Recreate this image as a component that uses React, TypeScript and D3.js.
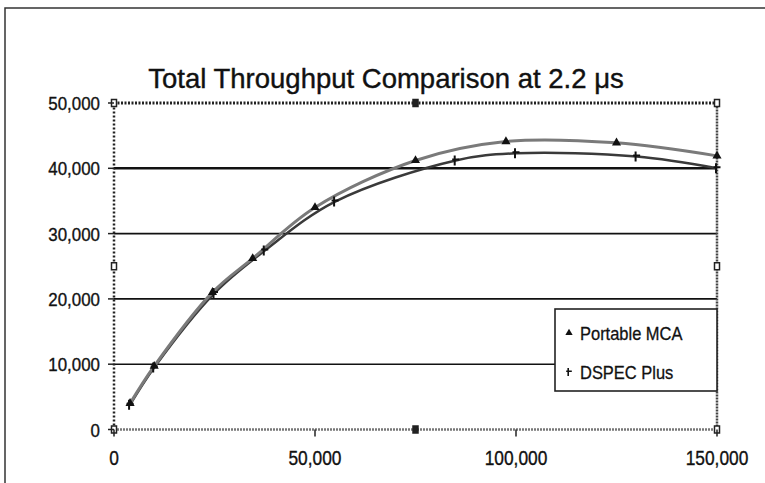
import React, { useRef, useEffect } from 'react';
import * as d3 from 'd3';

// Input count rate (cps) vs total throughput (cps)
const mcaX = [4000, 10000, 24500, 34500, 50000, 75000, 97500, 125000, 150000];
const mcaY = [4000, 9700, 21000, 26200, 34000, 41200, 44100, 43900, 41900];
const dspecX = [4000, 10000, 25000, 37500, 55000, 85000, 100000, 130000, 150000];
const dspecY = [3800, 9500, 20900, 27400, 34900, 41200, 42300, 41800, 40000];

const yTicks = [0, 10000, 20000, 30000, 40000, 50000];
const xTicks = [0, 50000, 100000, 150000];
const gridLines = [10000, 20000, 30000, 40000];
const seriesNames = ['Portable MCA', 'DSPEC Plus'];
const title = 'Total Throughput Comparison at 2.2 \u03bcs';

type Pt = { x: number; y: number };

export default function App() {
  const ref = useRef<SVGSVGElement>(null);

  useEffect(() => {
    if (!ref.current) return;
    const svg = d3.select(ref.current);
    svg.selectAll('*').remove();

    const width = 765;
    const height = 483;
    const font = '"Liberation Sans", Arial, Helvetica, sans-serif';
    const squeeze = 0.89; // the original type is a touch condensed
    const ink = '#111';

    const x = d3.scaleLinear().domain([0, 150000]).range([114, 717]);
    const y = d3.scaleLinear().domain([0, 50000]).range([429.5, 103]);
    const fmt = d3.format(',');

    svg.attr('width', width).attr('height', height);

    svg.append('rect').attr('width', width).attr('height', height).attr('fill', '#fff');

    // outer frame (right and bottom edges fall outside the picture)
    svg.append('rect')
      .attr('x', 5).attr('y', 8)
      .attr('width', 800).attr('height', 500)
      .attr('fill', 'none')
      .attr('stroke', '#333')
      .attr('stroke-width', 1.5);

    // title
    svg.append('text')
      .attr('x', 386).attr('y', 88)
      .attr('text-anchor', 'middle')
      .attr('font-family', font)
      .attr('font-size', 27.5)
      .attr('fill', ink)
      .attr('stroke', ink)
      .attr('stroke-width', 0.4)
      .text(title);

    // gridlines
    svg.append('g')
      .selectAll('line')
      .data(gridLines)
      .join('line')
      .attr('x1', x(0)).attr('x2', x(150000))
      .attr('y1', d => y(d)).attr('y2', d => y(d))
      .attr('stroke', ink)
      .attr('stroke-width', d => (d === 40000 ? 2.6 : 1.6));

    // plot frame: dotted edges
    const [x0, x1] = x.range();
    const [y0, y1] = y.range();
    svg.append('line').attr('x1', x0).attr('x2', x1).attr('y1', y1).attr('y2', y1)
      .attr('stroke', '#222').attr('stroke-width', 3).attr('stroke-dasharray', '2,1.5');
    svg.append('line').attr('x1', x0).attr('x2', x1).attr('y1', y0).attr('y2', y0)
      .attr('stroke', '#777').attr('stroke-width', 2.5).attr('stroke-dasharray', '2,1');
    svg.append('line').attr('x1', x0).attr('x2', x0).attr('y1', y0).attr('y2', y1)
      .attr('stroke', '#222').attr('stroke-width', 2.5).attr('stroke-dasharray', '2,2');
    svg.append('line').attr('x1', x1).attr('x2', x1).attr('y1', y0).attr('y2', y1)
      .attr('stroke', '#444').attr('stroke-width', 2.5).attr('stroke-dasharray', '2,1');

    // small handle marks at corners and mid-edges
    const handles: Pt[] = [
      { x: 0, y: 0 }, { x: 75000, y: 0 }, { x: 150000, y: 0 },
      { x: 0, y: 25000 }, { x: 150000, y: 25000 },
      { x: 0, y: 50000 }, { x: 75000, y: 50000 }, { x: 150000, y: 50000 },
    ];
    svg.append('g')
      .selectAll('rect')
      .data(handles)
      .join('rect')
      .attr('x', d => x(d.x) - 2.5).attr('y', d => y(d.y) - 3.5)
      .attr('width', 5).attr('height', 7)
      .attr('fill', d => (d.x === 75000 ? '#222' : '#fff'))
      .attr('stroke', '#222')
      .attr('stroke-width', 1.5);

    // y axis ticks and labels
    const yAxis = svg.append('g');
    yAxis.selectAll('line')
      .data(yTicks)
      .join('line')
      .attr('x1', x0 - 6).attr('x2', x0)
      .attr('y1', d => y(d)).attr('y2', d => y(d))
      .attr('stroke', '#222').attr('stroke-width', 1.5);
    yAxis.selectAll('text')
      .data(yTicks)
      .join('text')
      .attr('transform', d => `translate(100,${y(d) + 7}) scale(${squeeze},1)`)
      .attr('text-anchor', 'end')
      .attr('font-family', font)
      .attr('font-size', 19)
      .attr('fill', ink)
      .attr('stroke', ink)
      .attr('stroke-width', 0.35)
      .text(d => fmt(d));

    // x axis ticks and labels
    const xAxis = svg.append('g');
    xAxis.selectAll('line')
      .data(xTicks)
      .join('line')
      .attr('x1', d => x(d)).attr('x2', d => x(d))
      .attr('y1', y0).attr('y2', y0 + 7)
      .attr('stroke', '#222').attr('stroke-width', 1.5);
    xAxis.selectAll('text')
      .data(xTicks)
      .join('text')
      .attr('transform', d => `translate(${x(d)},465) scale(${squeeze},1)`)
      .attr('text-anchor', 'middle')
      .attr('font-family', font)
      .attr('font-size', 19.5)
      .attr('fill', ink)
      .attr('stroke', ink)
      .attr('stroke-width', 0.35)
      .text(d => fmt(d));

    const mca: Pt[] = mcaX.map((v, i) => ({ x: v, y: mcaY[i] }));
    const dspec: Pt[] = dspecX.map((v, i) => ({ x: v, y: dspecY[i] }));

    const line = d3.line<Pt>()
      .x(d => x(d.x))
      .y(d => y(d.y))
      .curve(d3.curveCatmullRom.alpha(0.5));

    svg.append('path')
      .datum(dspec)
      .attr('fill', 'none')
      .attr('stroke', '#3a3a3a')
      .attr('stroke-width', 2.5)
      .attr('d', line);

    svg.append('path')
      .datum(mca)
      .attr('fill', 'none')
      .attr('stroke', '#7a7a7a')
      .attr('stroke-width', 3)
      .attr('d', line);

    const tri = d3.symbol().type(d3.symbolTriangle).size(36);
    const plus = 'M-1,-5V5M-3.5,-1H3.5';

    svg.append('g')
      .selectAll('path')
      .data(mca)
      .join('path')
      .attr('transform', d => `translate(${x(d.x)},${y(d.y)})`)
      .attr('d', tri)
      .attr('fill', ink);

    svg.append('g')
      .selectAll('path')
      .data(dspec)
      .join('path')
      .attr('transform', d => `translate(${x(d.x)},${y(d.y)})`)
      .attr('d', plus)
      .attr('fill', 'none')
      .attr('stroke', ink)
      .attr('stroke-width', 2);

    // legend
    const lg = svg.append('g').attr('transform', 'translate(555,309)');
    lg.append('rect')
      .attr('width', 162).attr('height', 82)
      .attr('fill', '#fff')
      .attr('stroke', '#222')
      .attr('stroke-width', 1.6);
    const rows = lg.selectAll('g')
      .data(seriesNames)
      .join('g')
      .attr('transform', (_, i) => `translate(14,${24 + i * 39})`);
    rows.append('path')
      .attr('d', (_, i) => (i === 0 ? tri() : plus))
      .attr('transform', 'scale(0.8)')
      .attr('fill', (_, i) => (i === 0 ? ink : 'none'))
      .attr('stroke', (_, i) => (i === 0 ? 'none' : ink))
      .attr('stroke-width', 2);
    rows.append('text')
      .attr('transform', `translate(11,7) scale(${squeeze},1)`)
      .attr('font-family', font)
      .attr('font-size', 18.5)
      .attr('fill', ink)
      .attr('stroke', ink)
      .attr('stroke-width', 0.3)
      .text(d => d);
  }, []);

  return <svg ref={ref} style={{ position: 'absolute', left: 0, top: 0, display: 'block' }} />;
}
